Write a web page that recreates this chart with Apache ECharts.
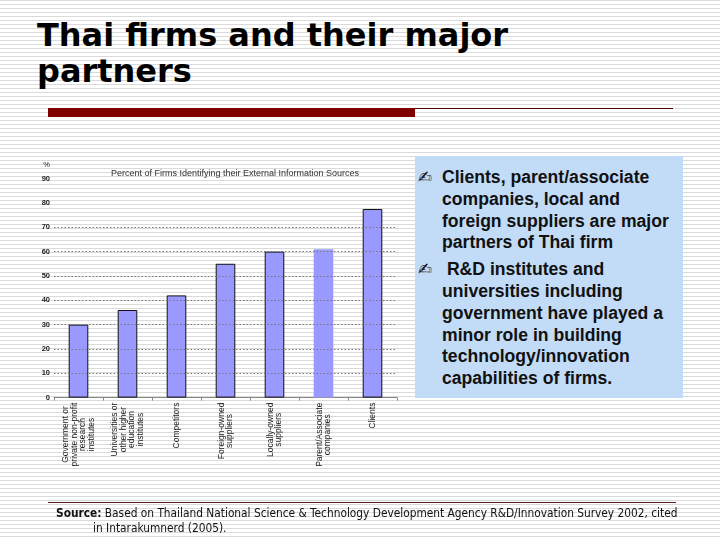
<!DOCTYPE html>
<html>
<head>
<meta charset="utf-8">
<script src="https://cdn.jsdelivr.net/npm/echarts@6/dist/echarts.min.js"></script>
<style>
  html, body { margin:0; padding:0; width:720px; height:540px; overflow:hidden; }
  body {
    position:relative;
    background: repeating-linear-gradient(to bottom, #dadada 0px, #dadada 1px, #ffffff 1px, #ffffff 4px);
  }
  #title {
    position:absolute; left:37px; top:17px; margin:0;
    font-family:"DejaVu Sans", Verdana, sans-serif; font-weight:bold;
    font-size:32px; line-height:36px; color:#000; white-space:nowrap;
  }
  #redbar { position:absolute; left:48px; top:108px; width:367px; height:9px; background:#800000; }
  #redline { position:absolute; left:415px; top:108px; width:258px; height:1px; background:#4a0000; }
  #chart { position:absolute; left:0; top:0; width:720px; height:540px; }
  #box {
    position:absolute; left:415px; top:156px; width:268px; height:242px;
    background:#c2dbf6; box-sizing:border-box; padding:11px 2px 0 3px;
    font-family:"Liberation Sans", Arial, sans-serif; font-weight:bold;
    font-size:17.6px; line-height:21.8px; color:#111; white-space:nowrap;
  }
  #box p { margin:0 0 5px 0; padding-left:24px; text-indent:-24px; }
  #box .b { font-family:"DejaVu Sans", sans-serif; font-weight:normal; font-size:17px; display:inline-block; width:24px; text-indent:0; }
  #srcline { position:absolute; left:48px; top:502px; width:628px; height:1px; background:#5a2020; }
  #source {
    position:absolute; left:56px; top:506px; width:660px; white-space:nowrap;
    font-family:"DejaVu Sans Condensed", "DejaVu Sans", sans-serif; font-stretch:condensed;
    font-size:11.8px; line-height:15px; color:#111;
  }
  #source .l2 { padding-left:37px; }
</style>
</head>
<body>
<h1 id="title">Thai firms and their major<br>partners</h1>
<div id="redbar"></div>
<div id="redline"></div>
<div id="chart"></div>
<div id="box">
  <p><span class="b">✍</span>Clients, parent/associate<br>companies, local and<br>foreign suppliers are major<br>partners of Thai firm</p>
  <p><span class="b">✍</span> R&amp;D institutes and<br>universities including<br>government have played a<br>minor role in building<br>technology/innovation<br>capabilities of firms.</p>
</div>
<div id="srcline"></div>
<div id="source"><b>Source:</b> Based on Thailand National Science &amp; Technology Development Agency R&amp;D/Innovation Survey 2002, cited<br><span class="l2">in Intarakumnerd (2005).</span></div>
<script>
const categories = [
  "Government or\nprivate non-profit\nresearch\ninstitutes",
  "Universities or\nother higher\neducation\ninstitutes",
  "Competitors",
  "Foreign-owned\nsuppliers",
  "Locally-owned\nsuppliers",
  "Parent/Associate\ncompanies",
  "Clients"
];
const percentValues = [30, 36, 42, 55, 60, 61, 77.5];
const gridValues = [10, 20, 30, 40, 50, 60, 70];
const chartTitle = "Percent of Firms Identifying their External Information Sources";

const chart = echarts.init(document.getElementById('chart'), null, {renderer:'canvas'});
const barData = percentValues.map((v, i) => i === 5 ? {value: v, itemStyle: {borderWidth: 0}} : v);

chart.setOption({
  backgroundColor: 'transparent',
  animation: false,
  title: {
    text: chartTitle,
    left: 230, top: 164, textAlign: 'center',
    textStyle: {fontSize: 9, fontWeight: 'normal', color: '#333', fontFamily: 'Liberation Sans, Arial, sans-serif'}
  },
  grid: {left: 54, right: 323, top: 178.6, bottom: 142.4, containLabel: false},
  xAxis: {
    type: 'category',
    data: categories,
    axisLine: {show: true, lineStyle: {color: '#888', width: 1}},
    axisTick: {show: true, length: 3, lineStyle: {color: '#888'}},
    axisLabel: {
      rotate: 90, margin: 5, interval: 0,
      formatter: (val) => val.split('\n').map(s => '{a|' + s + '}').join('\n'),
      rich: {a: {align: 'center', fontSize: 8.5, lineHeight: 8.6, color: '#222', fontFamily: 'Liberation Sans, Arial, sans-serif'}}
    }
  },
  yAxis: {
    type: 'value', min: 0, max: 90, interval: 10,
    name: '%', nameLocation: 'end', nameGap: 10,
    nameTextStyle: {fontSize: 7.5, color: '#222', align: 'right', padding: [0, 4, 0, 0]},
    axisLine: {show: false}, axisTick: {show: false},
    splitLine: {show: false},
    axisLabel: {fontSize: 7.5, color: '#222', margin: 4, fontWeight: 'bold', fontFamily: 'Liberation Sans, Arial, sans-serif'}
  },
  series: [{
    type: 'bar',
    data: barData,
    barWidth: '40%',
    itemStyle: {color: '#9999ff', borderColor: '#111', borderWidth: 1},
    markLine: {
      silent: true, symbol: 'none', label: {show: false},
      lineStyle: {type: [1.5, 2], color: '#777', width: 1},
      data: gridValues.map(v => ({yAxis: v}))
    },
    z: 3
  }]
});
</script>
</body>
</html>
